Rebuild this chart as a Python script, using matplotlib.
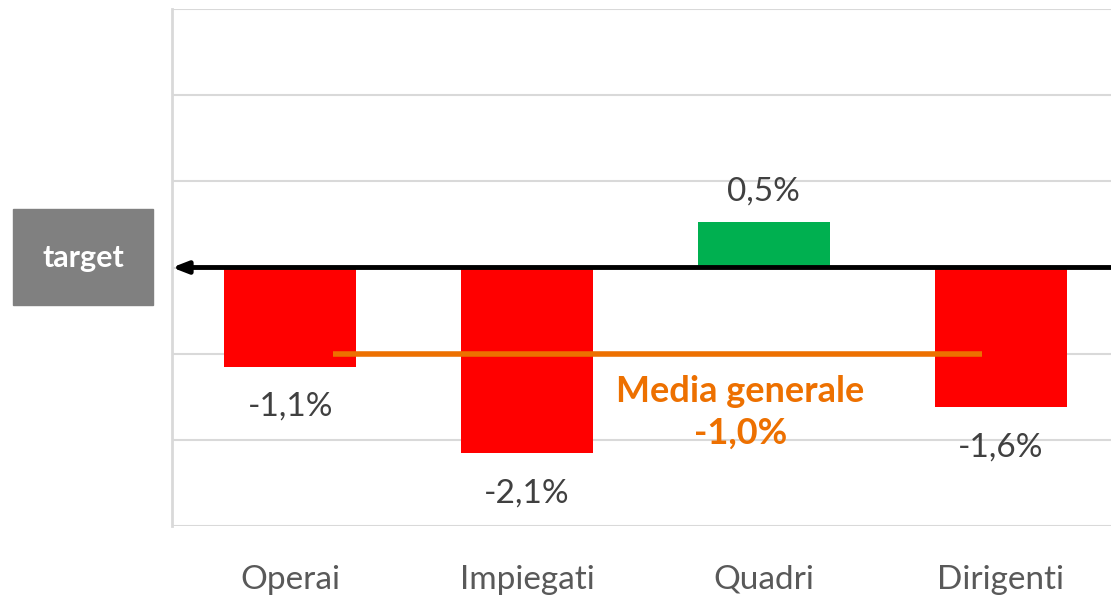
import matplotlib.pyplot as plt
from matplotlib.patches import Rectangle

categories = ['Operai', 'Impiegati', 'Quadri', 'Dirigenti']
values = [-1.15, -2.15, 0.53, -1.62]
labels = ['-1,1%', '-2,1%', '0,5%', '-1,6%']
media = -1.0
media_label = 'Media generale\n-1,0%'

plt.rcParams['font.family'] = ['Lato', 'DejaVu Sans']

fig = plt.figure(figsize=(11.11, 5.97), dpi=100)
ax = fig.add_axes([172 / 1111, 1 - 526 / 597, 947 / 1111, 517 / 597])

x = range(len(categories))
colors = ['#00b050' if v >= 0 else '#ff0000' for v in values]
ax.bar(x, values, width=0.558, color=colors, zorder=2)

ax.set_xlim(-0.5, 3.5)
ax.set_ylim(-3, 3)
ax.set_yticks([-3, -2, -1, 0, 1, 2, 3])
ax.yaxis.grid(True, color='#d9d9d9', linewidth=1.5, zorder=0)
ax.set_axisbelow(True)
ax.tick_params(axis='y', left=False, labelleft=False)
ax.tick_params(axis='x', length=0, pad=28, labelsize=24, labelcolor='#595959')
ax.set_xticks(list(x))
ax.set_xticklabels(categories)
for s in ['top', 'right', 'bottom']:
    ax.spines[s].set_visible(False)
ax.spines['left'].set_color('#d9d9d9')
ax.spines['left'].set_linewidth(2)

# value labels
for i, v in enumerate(values):
    off = 22 if v >= 0 else -29
    ax.annotate(labels[i], (i, v), xytext=(0, off), textcoords='offset points',
                ha='center', va='center', fontsize=24, color='#404040')

# zero / target arrow
ax.annotate('', xy=(-0.5, 0), xytext=(3.6, 0),
            arrowprops=dict(arrowstyle='-|>,head_length=0.9,head_width=0.35',
                            color='black', lw=3.5, shrinkA=0, shrinkB=0),
            annotation_clip=False, zorder=4)

# overall average
ax.plot([0.18, 2.92], [media, media], color='#ed7000', linewidth=4, zorder=3,
        solid_capstyle='butt')
ax.text(1.9, -1.68, media_label, ha='center', va='center', fontsize=26,
        fontweight='bold', color='#ed7000', linespacing=1.3)

# target box
fig.patches.append(Rectangle((13 / 1111, 1 - 305 / 597), 140 / 1111, 96 / 597,
                             transform=fig.transFigure, color='#808080'))
fig.text(83 / 1111, 1 - 258 / 597, 'target', ha='center', va='center',
         fontsize=22, fontweight='bold', color='white')

fig.savefig('out.png', dpi=100)
